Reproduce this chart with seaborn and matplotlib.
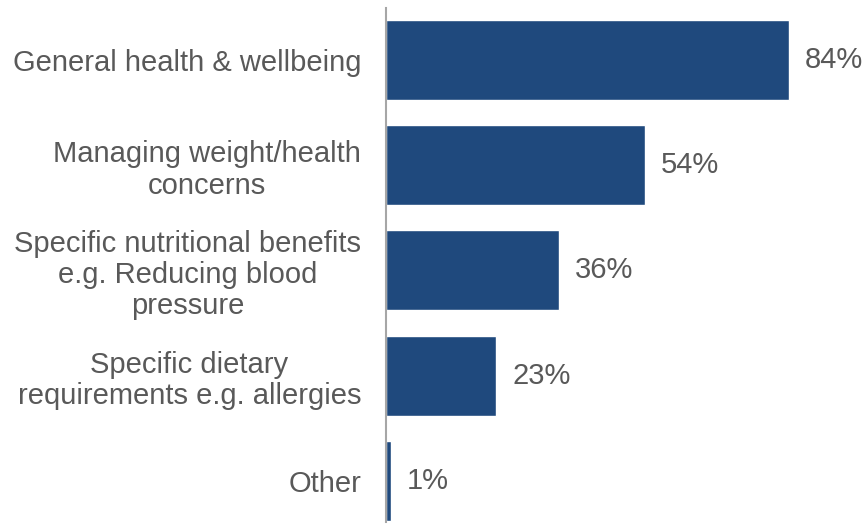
import matplotlib
matplotlib.use("Agg")
import matplotlib.pyplot as plt
import seaborn as sns
import pandas as pd

# Reasons for choosing products (share of respondents, %)
categories = [
    "General health & wellbeing",
    "Managing weight/health\nconcerns",
    "Specific nutritional benefits\ne.g. Reducing blood\npressure",
    "Specific dietary\nrequirements e.g. allergies",
    "Other",
]
values = [84, 54, 36, 23, 1]

bar_color = "#1F497D"
text_color = "#595959"

sns.set_theme(style="white")
plt.rcParams["font.family"] = ["Liberation Sans", "DejaVu Sans"]

df = pd.DataFrame({"reason": categories, "share": values})

fig = plt.figure(figsize=(8.63, 5.30), dpi=100)
ax = fig.add_axes([386 / 863, 8 / 530, 477 / 863, 514 / 530])

sns.barplot(data=df, x="share", y="reason", orient="h", color=bar_color,
            saturation=1, width=0.76, ax=ax)

ax.set_xlim(0, 99.4)
ax.set_ylim(4.39, -0.494)

for container in ax.containers:
    ax.bar_label(container, labels=[f"{v}%" for v in values], padding=11.5,
                 fontsize=21, color=text_color)

ax.set_xlabel("")
ax.set_ylabel("")
ax.set_xticks([])
ax.tick_params(axis="y", length=0, pad=18)
for lab in ax.get_yticklabels():
    lab.set_fontsize(21)
    lab.set_color(text_color)
    lab.set_horizontalalignment("right")
    lab.set_multialignment("center")
    lab.set_linespacing(1.15)

for side in ["top", "right", "bottom"]:
    ax.spines[side].set_visible(False)
ax.spines["left"].set_color("#A6A6A6")
ax.spines["left"].set_linewidth(1.5)

fig.savefig("out.png", dpi=100)
